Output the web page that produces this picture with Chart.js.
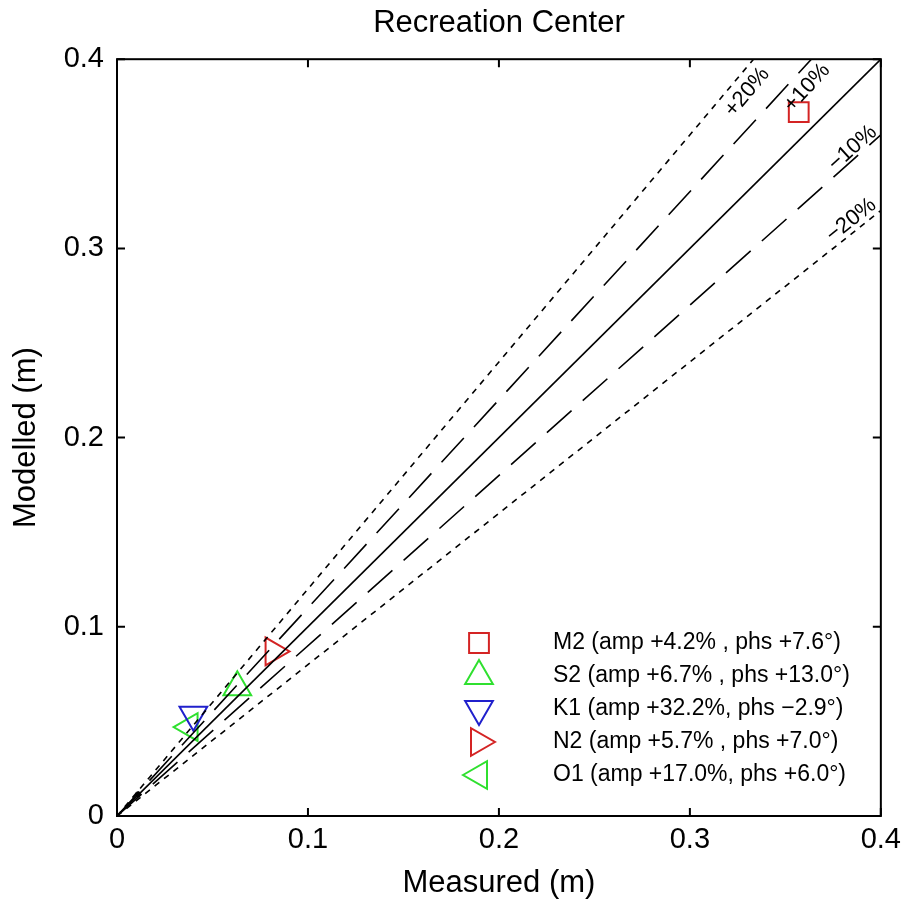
<!DOCTYPE html>
<html>
<head>
<meta charset="utf-8">
<script src="https://cdn.jsdelivr.net/npm/chart.js@4.4.1/dist/chart.umd.min.js"></script>
<style>
  html, body { margin: 0; padding: 0; background: #fff; }
  canvas { display: block; }
</style>
</head>
<body>
<canvas id="chart" width="908" height="905"></canvas>
<script>
// tidal constituents, measured vs modelled amplitude (m)
const constituents = ['M2', 'S2', 'K1', 'N2', 'O1'];
const measured = [0.357, 0.063, 0.040, 0.082, 0.038];
const modelled = [0.372, 0.068, 0.0535, 0.087, 0.047];
const legendLabels = [
  'M2 (amp +4.2% , phs +7.6°)',
  'S2 (amp +6.7% , phs +13.0°)',
  'K1 (amp +32.2%, phs −2.9°)',
  'N2 (amp +5.7% , phs +7.0°)',
  'O1 (amp +17.0%, phs +6.0°)'
];
const markerStyles = ['rect', 'triangle', 'triangle', 'triangle', 'triangle'];
const markerRotation = [0, 0, 180, 90, 270];
const markerColors = ['#d42424', '#2fe02f', '#2020cc', '#d42424', '#2fe02f'];

// tiny constituents near the origin
const minorMeasured = [0.011];
const minorModelled = [0.0115];

// reference lines y = r * x
const ratios = [1.2, 1.1, 1.0, 0.9, 0.8];
const ratioLabels = ['+20%', '+10%', '', '−10%', '−20%'];
const ratioDash = [[6, 6], [33, 15], [], [33, 15], [6, 6]];

const tickLabels = ['0', '0.1', '0.2', '0.3', '0.4'];

Chart.defaults.font.family = "'Liberation Sans', Arial, sans-serif";
Chart.defaults.color = '#000';

const datasets = [];
ratios.forEach((r, i) => {
  datasets.push({
    label: ratioLabels[i],
    data: [{ x: 0, y: 0 }, { x: 0.4, y: 0.4 * r }],
    showLine: true,
    borderColor: '#000',
    borderWidth: 1.6,
    borderDash: ratioDash[i],
    pointRadius: 0,
    ratio: r
  });
});
datasets.push({
  label: 'minor',
  data: minorMeasured.map((x, i) => ({ x: x, y: minorModelled[i] })),
  pointRadius: 2.5,
  backgroundColor: '#000',
  borderColor: '#000'
});
constituents.forEach((c, i) => {
  datasets.push({
    label: legendLabels[i],
    data: [{ x: measured[i], y: modelled[i] }],
    pointStyle: markerStyles[i],
    pointRotation: markerRotation[i],
    pointRadius: markerStyles[i] === 'rect' ? 14 : 16,
    borderColor: markerColors[i],
    backgroundColor: 'rgba(0,0,0,0)',
    borderWidth: 2,
    marker: true
  });
});

// where the percentage labels sit (data units)
const labelSpots = {
  '+20%': [0.330, 0.3826],
  '+10%': [0.3613, 0.3849],
  '−10%': [0.3852, 0.3530],
  '−20%': [0.3845, 0.3150]
};

const framePlugin = {
  id: 'frame',
  afterDatasetsDraw(chart) {
    const { ctx, chartArea: a, scales: { x, y } } = chart;
    ctx.save();
    ctx.strokeStyle = '#000';
    ctx.lineWidth = 2;
    ctx.strokeRect(a.left, a.top, a.right - a.left, a.bottom - a.top);
    const tl = 8;
    ctx.beginPath();
    x.ticks.forEach(t => {
      const px = x.getPixelForValue(t.value);
      ctx.moveTo(px, a.bottom); ctx.lineTo(px, a.bottom - tl);
      ctx.moveTo(px, a.top); ctx.lineTo(px, a.top + tl);
    });
    y.ticks.forEach(t => {
      const py = y.getPixelForValue(t.value);
      ctx.moveTo(a.left, py); ctx.lineTo(a.left + tl, py);
      ctx.moveTo(a.right, py); ctx.lineTo(a.right - tl, py);
    });
    ctx.stroke();

    // percentage labels along the lines
    ctx.fillStyle = '#000';
    ctx.font = "22px 'Liberation Sans', Arial, sans-serif";
    ctx.textAlign = 'center';
    ctx.textBaseline = 'middle';
    chart.data.datasets.forEach(ds => {
      const spot = labelSpots[ds.label];
      if (!spot) return;
      const dx = x.getPixelForValue(0.4) - x.getPixelForValue(0);
      const dy = y.getPixelForValue(0) - y.getPixelForValue(0.4 * ds.ratio);
      const ang = Math.atan2(dy, dx);
      ctx.save();
      ctx.translate(x.getPixelForValue(spot[0]), y.getPixelForValue(spot[1]));
      ctx.rotate(-ang);
      ctx.fillText(ds.label, 0, 0);
      ctx.restore();
    });
    ctx.restore();
  }
};

const legendPlugin = {
  id: 'innerLegend',
  afterDraw(chart) {
    const ctx = chart.ctx;
    ctx.save();
    ctx.font = "23px 'Liberation Sans', Arial, sans-serif";
    ctx.textAlign = 'left';
    ctx.textBaseline = 'middle';
    let row = 0;
    chart.data.datasets.forEach(ds => {
      if (!ds.marker) return;
      const cy = 643 + row * 33;
      ctx.strokeStyle = ds.borderColor;
      ctx.fillStyle = 'rgba(0,0,0,0)';
      ctx.lineWidth = ds.borderWidth;
      Chart.helpers.drawPoint(ctx, {
        pointStyle: ds.pointStyle,
        rotation: ds.pointRotation,
        radius: ds.pointRadius,
        borderWidth: ds.borderWidth
      }, 479, cy);
      ctx.fillStyle = '#000';
      ctx.fillText(ds.label, 553, cy);
      row++;
    });
    ctx.restore();
  }
};

new Chart(document.getElementById('chart'), {
  type: 'scatter',
  data: { datasets: datasets },
  options: {
    responsive: false,
    animation: false,
    layout: { padding: { top: 0, right: 26, bottom: 0, left: 0 } },
    plugins: {
      legend: { display: false },
      tooltip: { enabled: false },
      title: {
        display: true,
        text: 'Recreation Center',
        fullSize: false,
        font: { size: 31, weight: 'normal' },
        padding: { top: 5, bottom: 17 }
      }
    },
    scales: {
      x: {
        type: 'linear',
        min: 0,
        max: 0.4,
        ticks: {
          stepSize: 0.1,
          padding: 7,
          maxRotation: 0,
          autoSkip: false,
          font: { size: 29 },
          callback: v => tickLabels[Math.round(v * 10)]
        },
        grid: { display: false, drawTicks: false },
        border: { display: false },
        title: {
          display: true,
          text: 'Measured (m)',
          font: { size: 31 },
          padding: { top: 0, bottom: 3 }
        },
        afterFit: s => { s.height = 89; }
      },
      y: {
        type: 'linear',
        min: 0,
        max: 0.4,
        ticks: {
          stepSize: 0.1,
          padding: 13,
          font: { size: 29 },
          callback: v => tickLabels[Math.round(v * 10)]
        },
        grid: { display: false, drawTicks: false },
        border: { display: false },
        title: {
          display: true,
          text: 'Modelled (m)',
          font: { size: 31 },
          padding: { top: 8, bottom: 0 }
        },
        afterFit: s => { s.width = 117; }
      }
    }
  },
  plugins: [framePlugin, legendPlugin]
});
</script>
</body>
</html>
